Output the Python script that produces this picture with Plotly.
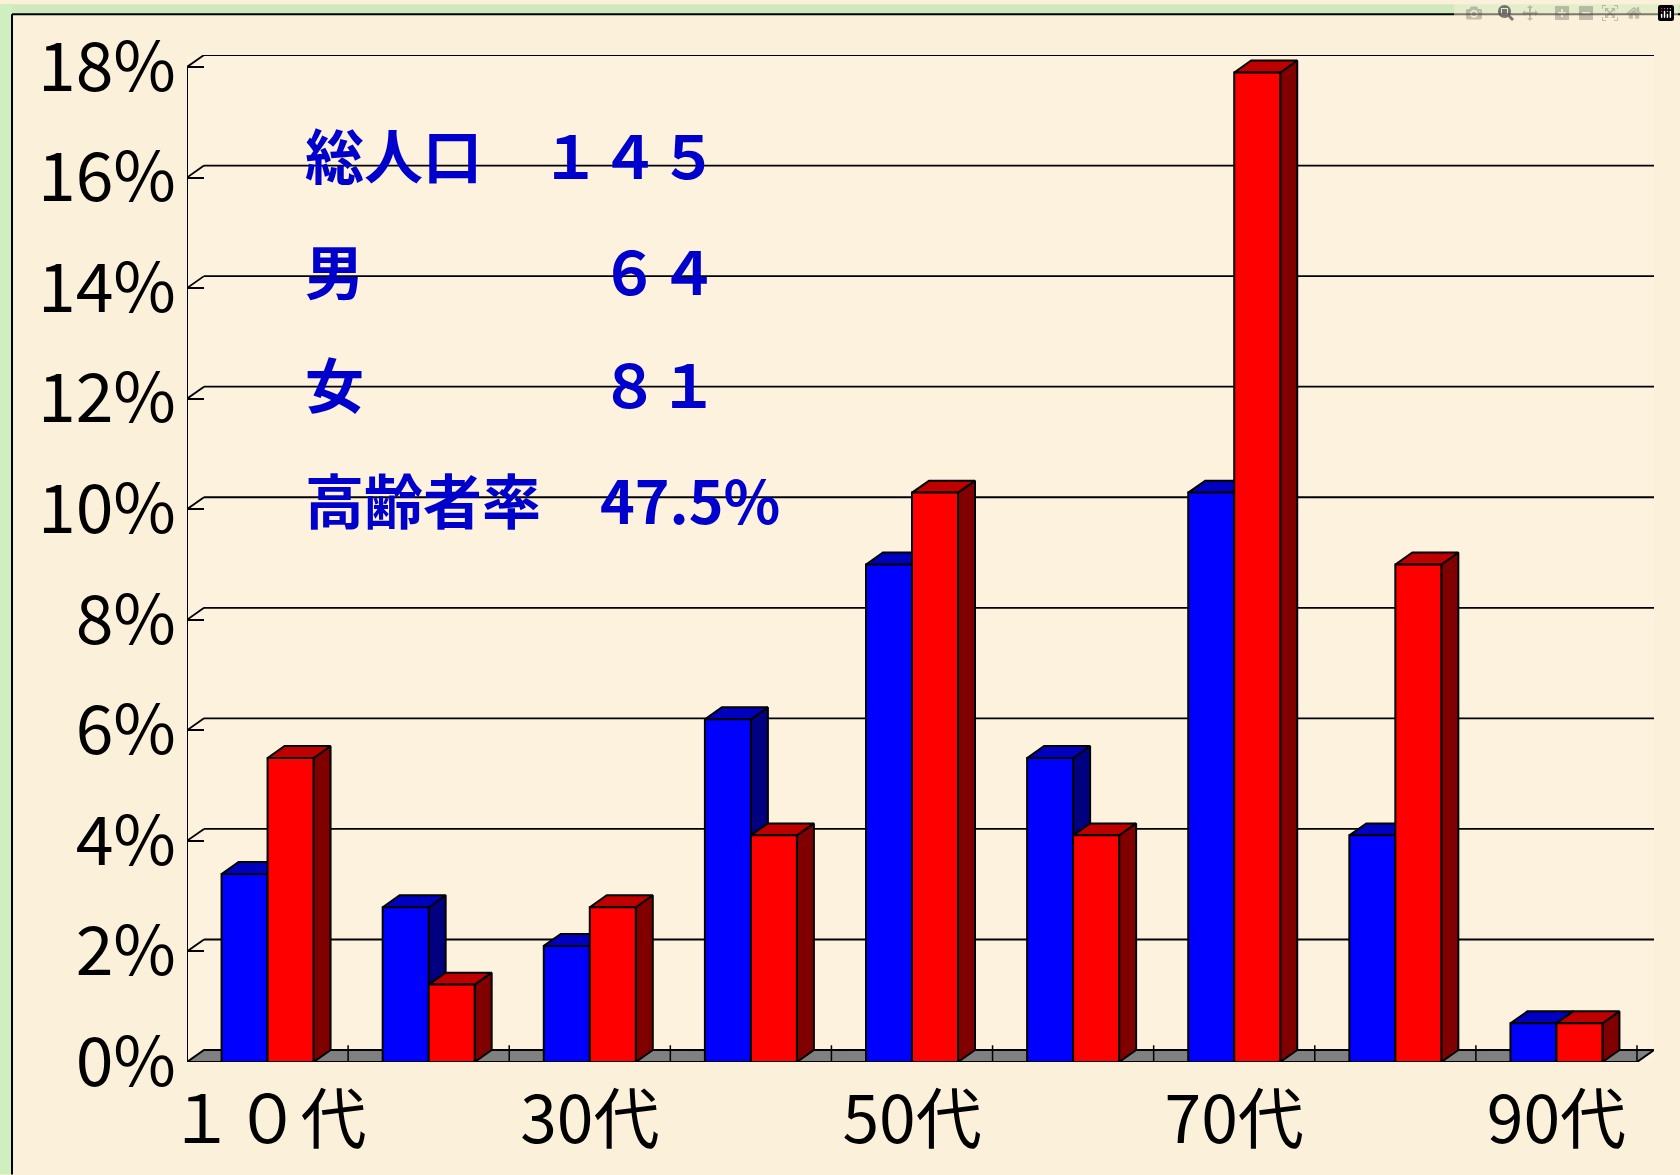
import plotly.graph_objects as go

categories = ["１０代", "20代", "30代", "40代", "50代", "60代", "70代", "80代", "90代"]
male_pct = [3.4, 2.8, 2.1, 6.2, 9.0, 5.5, 10.3, 4.1, 0.7]
female_pct = [5.5, 1.4, 2.8, 4.1, 10.3, 4.1, 17.9, 9.0, 0.7]
y_ticks = [0, 2, 4, 6, 8, 10, 12, 14, 16, 18]
x_tick_idx = [0, 2, 4, 6, 8]
info_lines = ["総人口　１４５", "男　　　　６４", "女　　　　８１", "高齢者率　47.5%"]

W, H = 1680, 1175
L, R, T, B = 187, 1654, 51, 1062
PX_CAT = 161.11
PX_PCT = 55.5
DX = 17 / PX_CAT
DY = 12 / PX_PCT
BAR = 46 / PX_CAT
x0 = -0.5
x1 = x0 + (R - L) / PX_CAT
y1 = (B - T) / PX_PCT
xfront = x0 + (R - L - 17) / PX_CAT

fig = go.Figure()


def poly(xs, ys, fill=None, width=2.0, color="#000000"):
    fig.add_trace(go.Scatter(
        x=xs, y=ys, mode="lines", hoverinfo="skip", showlegend=False,
        line=dict(color=color, width=width, simplify=False),
        fill="toself" if fill else None,
        fillcolor=fill,
    ))


# gridlines on the back wall, connectors to the front axis
for v in y_ticks:
    if v == 0:
        continue
    poly([x0 + DX, x1], [v + DY, v + DY], width=1.8)
    poly([x0, x0 + DX], [v, v + DY], width=1.8)
poly([x0, x0], [0, 18], width=2)

# floor
poly([x0, xfront, x1, x0 + DX, x0], [0, 0, DY, DY, 0], fill="#808080")
for i in range(len(categories) + 1):
    if i == 0:
        continue
    poly([x0 + i, x0 + i], [0, DY * 1.4], width=1.5)


def box(left, val, front, top, side):
    r = left + BAR
    poly([r, r + DX, r + DX, r, r], [0, DY, val + DY, val, 0], fill=side)
    poly([left, left + DX, r + DX, r, left], [val, val + DY, val + DY, val, val], fill=top)
    poly([left, r, r, left, left], [0, 0, val, val, 0], fill=front)


for i, (m, f) in enumerate(zip(male_pct, female_pct)):
    box(i - BAR, m, "#0000FF", "#0000C0", "#000080")
    box(i, f, "#FF0000", "#C00000", "#800000")

annotations = []
for line, py in zip(info_lines, [150, 266, 380, 496]):
    annotations.append(dict(
        xref="paper", yref="paper", xanchor="left", yanchor="middle",
        x=(303 - L) / (R - L), y=1 - (py - T) / (B - T),
        text="<b>" + line + "</b>", showarrow=False,
        font=dict(family="Noto Sans CJK JP", size=59, color="#0000CC"),
    ))

shapes = [
    dict(type="rect", xref="paper", yref="paper", layer="below",
         x0=-L / (R - L), x1=(W - L) / (R - L), y0=1 + T / (B - T), y1=1 + (T - 11) / (B - T),
         fillcolor="#CFE9BC", line_width=0),
    dict(type="rect", xref="paper", yref="paper", layer="below",
         x0=-L / (R - L), x1=-(L - 12) / (R - L), y0=-(H - B) / (B - T), y1=1 + T / (B - T),
         fillcolor="#CFEFC0", line_width=0),
    dict(type="line", xref="paper", yref="paper",
         x0=-(L - 12) / (R - L), x1=(W - L) / (R - L), y0=1 + (T - 10) / (B - T), y1=1 + (T - 10) / (B - T),
         line=dict(color="#000000", width=2)),
    dict(type="line", xref="paper", yref="paper",
         x0=-(L - 12) / (R - L), x1=-(L - 12) / (R - L), y0=-(H - B) / (B - T), y1=1 + (T - 10) / (B - T),
         line=dict(color="#000000", width=2)),
]

fig.update_layout(
    width=W, height=H,
    margin=dict(l=L, r=W - R, t=T, b=H - B, pad=0),
    paper_bgcolor="#FBF0D9", plot_bgcolor="#FCF2DE",
    showlegend=False, annotations=annotations, shapes=shapes,
    font=dict(family="Liberation Sans Narrow, Noto Sans CJK JP", color="#000000"),
    xaxis=dict(
        range=[x0, x1], showgrid=False, zeroline=False, showline=False,
        tickmode="array", tickvals=x_tick_idx,
        ticktext=[categories[i] for i in x_tick_idx],
        ticks="", ticklabelstandoff=14,
        tickfont=dict(family="Liberation Sans Narrow, Noto Sans CJK JP", size=66),
    ),
    yaxis=dict(
        range=[0, y1], showgrid=False, zeroline=False, showline=False,
        tickmode="array", tickvals=y_ticks,
        ticktext=[f"{v}%" for v in y_ticks],
        ticks="inside", ticklen=17, tickwidth=2, tickcolor="#000000",
        ticklabelstandoff=10,
        tickfont=dict(family="Liberation Sans Narrow, Noto Sans CJK JP", size=68),
    ),
)

fig.write_html("out.html", post_script="document.body.style.margin='0';document.body.style.overflow='hidden';")
